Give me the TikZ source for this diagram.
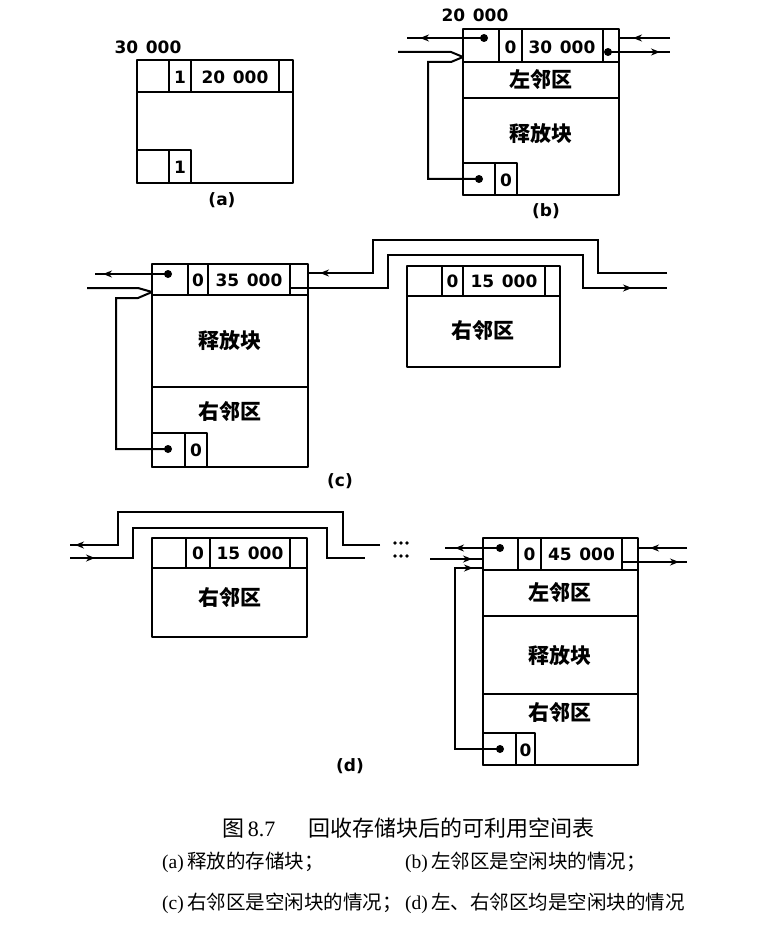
\documentclass[tikz,border=0pt]{standalone}
\usepackage{fontspec}
\usetikzlibrary{arrows.meta,decorations.markings}
\newfontfamily\zhfont{Noto Sans CJK SC}
\newfontfamily\numfont{DejaVu Sans}
\newfontfamily\latfont{Liberation Serif}
\newcommand{\gap}{\hspace{0.45em}}
\tikzset{
  blk/.style={line width=2.2pt, line join=round},
  lnk/.style={line width=2pt, line join=miter},
  num/.style={font=\numfont\bfseries\fontsize{17}{17}\selectfont, inner sep=0pt},
  zh/.style={font=\zhfont\bfseries\fontsize{21}{21}\selectfont, inner sep=0pt},
  sub/.style={font=\numfont\bfseries\fontsize{17}{17}\selectfont, inner sep=0pt},
  captxt/.style={font=\zhfont\fontsize{19.5}{19.5}\selectfont, inner sep=0pt, anchor=west},
  tipat/.style={postaction={decorate}, decoration={markings,
      mark=at position #1 with {\arrow{Stealth[length=9pt,width=7pt]}}}},
  dotmark/.style={fill=black}
}
\begin{document}
\begin{tikzpicture}[x=1pt,y=-1pt]
\useasboundingbox (0,0) rectangle (757,944);

% ---------------- (a) the released block alone ----------------
\draw[blk] (137,60) rectangle (293,183);
\draw[blk] (137,92) -- (293,92);
\foreach \xx in {169,191,279} \draw[blk] (\xx,60) -- (\xx,92);
\draw[blk] (137,150) rectangle (191,183);
\draw[blk] (169,150) -- (169,183);
\node[num] (a-addr) at (148,47) {30\gap000};
\node[num] (a-tag)  at (180,77) {1};
\node[num] (a-size) at (235,77) {20\gap000};
\node[num] (a-foot) at (180,167) {1};
\node[sub] (a-lab)  at (222,200) {(a)};

% ---------------- (b) left neighbour free ----------------
\draw[blk] (463,29) rectangle (619,195);
\draw[blk] (463,62) -- (619,62);
\draw[blk] (463,98) -- (619,98);
\foreach \xx in {499,522,603} \draw[blk] (\xx,29) -- (\xx,62);
\draw[blk] (463,163) rectangle (517,195);
\draw[blk] (495,163) -- (495,195);
\node[num] (b-addr) at (475,15) {20\gap000};
\node[num] (b-tag)  at (510.5,47) {0};
\node[num] (b-size) at (562,47) {30\gap000};
\node[zh]  (b-left) at (541,80) {左邻区};
\node[zh]  (b-rel)  at (541,134) {释放块};
\node[num] (b-foot) at (506,180) {0};
\node[sub] (b-lab)  at (546,211) {(b)};

\coordinate (b-ll) at (484,38);
\coordinate (b-rl) at (608,52);
\coordinate (b-up) at (479,179);
\coordinate (b-tip) at (463,57);
\coordinate (b-w1) at (407,38);
\coordinate (b-w2) at (398,52);
\coordinate (b-e1) at (670,38);
\coordinate (b-e2) at (670,52);
\coordinate (b-rin) at (619,38);
\fill[dotmark] (b-ll) circle (4pt);
\fill[dotmark] (b-rl) circle (4pt);
\fill[dotmark] (b-up) circle (4pt);
\draw[lnk, tipat=-13pt] (b-ll) -- (b-w1);
\draw[lnk] (b-w2) -- (451,52) -- (b-tip);
\draw[lnk] (b-up) -- (428,179) -- (428,62) -- (451,62) -- (b-tip);
\draw[lnk, tipat=-14pt] (b-e1) -- (b-rin);
\draw[lnk, tipat=-10pt] (b-rl) -- (b-e2);

% ---------------- (c) right neighbour free ----------------
\draw[blk] (152,264) rectangle (308,467);
\draw[blk] (152,295) -- (308,295);
\draw[blk] (152,387) -- (308,387);
\foreach \xx in {188,208,290} \draw[blk] (\xx,264) -- (\xx,295);
\draw[blk] (152,433) rectangle (207,467);
\draw[blk] (185,433) -- (185,467);
\node[num] (c-tag)  at (198,280) {0};
\node[num] (c-size) at (249,280) {35\gap000};
\node[zh]  (c-rel)  at (230,340) {释放块};
\node[zh]  (c-right) at (230,412) {右邻区};
\node[num] (c-foot) at (196,450) {0};
\node[sub] (c-lab)  at (340,481) {(c)};

% the old right neighbour, now unlinked
\draw[blk] (407,266) rectangle (560,367);
\draw[blk] (407,296) -- (560,296);
\foreach \xx in {442,463,545} \draw[blk] (\xx,266) -- (\xx,296);
\node[num] (c2-tag)  at (452.5,281) {0};
\node[num] (c2-size) at (504,281) {15\gap000};
\node[zh]  (c2-right) at (483,331) {右邻区};

\coordinate (c-ll) at (168,274);
\coordinate (c-up) at (168,449);
\coordinate (c-tip) at (152,292);
\coordinate (c-w1) at (95,274);
\coordinate (c-w2) at (87,288);
\coordinate (c-rin) at (308,273);
\coordinate (c-rl) at (291,288);
\coordinate (c-e1) at (667,273);
\coordinate (c-e2) at (667,288);
\fill[dotmark] (c-ll) circle (4pt);
\fill[dotmark] (c-up) circle (4pt);
\draw[lnk, tipat=-8pt] (c-ll) -- (c-w1);
\draw[lnk] (c-w2) -- (138,288) -- (c-tip);
\draw[lnk] (c-up) -- (116,449) -- (116,298) -- (138,298) -- (c-tip);
\draw[lnk, tipat=-12pt] (c-e1) -- (598,273) -- (598,240) -- (373,240) -- (373,273) -- (c-rin);
\draw[lnk, tipat=-35pt] (c-rl) -- (388,288) -- (388,255) -- (583,255) -- (583,288) -- (c-e2);

% ---------------- (d) both neighbours free ----------------
\draw[blk] (152,538) rectangle (307,637);
\draw[blk] (152,568) -- (307,568);
\foreach \xx in {186,210,290} \draw[blk] (\xx,538) -- (\xx,568);
\node[num] (d1-tag)  at (198,553) {0};
\node[num] (d1-size) at (250,553) {15\gap000};
\node[zh]  (d1-right) at (230,598) {右邻区};

\coordinate (d1-w1) at (70,545);
\coordinate (d1-e1) at (380,545);
\coordinate (d1-w2) at (70,558);
\coordinate (d1-e2) at (365,558);
\draw[lnk, tipat=-5pt] (d1-e1) -- (343,545) -- (343,512) -- (118,512) -- (118,545) -- (d1-w1);
\draw[lnk, tipat=25pt] (d1-w2) -- (133,558) -- (133,528) -- (327,528) -- (327,558) -- (d1-e2);
\foreach \xx in {395,401,407} {
  \fill (\xx,543) circle (1.8pt);
  \fill (\xx,556) circle (1.8pt);
}

\draw[blk] (483,538) rectangle (638,765);
\draw[blk] (483,570) -- (638,570);
\draw[blk] (483,616) -- (638,616);
\draw[blk] (483,694) -- (638,694);
\foreach \xx in {518,541,622} \draw[blk] (\xx,538) -- (\xx,570);
\draw[blk] (483,733) rectangle (535,765);
\draw[blk] (516,733) -- (516,765);
\node[num] (d-tag)  at (529.5,554) {0};
\node[num] (d-size) at (581.5,554) {45\gap000};
\node[zh]  (d-left) at (560,593) {左邻区};
\node[zh]  (d-rel)  at (560,655) {释放块};
\node[zh]  (d-right) at (560,713) {右邻区};
\node[num] (d-foot) at (525.5,750) {0};
\node[sub] (d-lab)  at (350,766) {(d)};

\coordinate (d-ll) at (500,548);
\coordinate (d-up) at (500,749);
\coordinate (d-w1) at (445,548);
\coordinate (d-w2) at (430,559);
\coordinate (d-in2) at (483,559);
\coordinate (d-in3) at (483,568);
\coordinate (d-rin) at (638,548);
\coordinate (d-rl) at (623,562);
\coordinate (d-e1) at (687,548);
\coordinate (d-e2) at (687,562);
\fill[dotmark] (d-ll) circle (4pt);
\fill[dotmark] (d-up) circle (4pt);
\draw[lnk, tipat=-10pt] (d-ll) -- (d-w1);
\draw[lnk, tipat=42pt] (d-w2) -- (d-in2);
\draw[lnk, tipat=-10pt] (d-up) -- (455,749) -- (455,568) -- (d-in3);
\draw[lnk, tipat=-12pt] (d-e1) -- (d-rin);
\draw[lnk, tipat=-8pt] (d-rl) -- (d-e2);

% ---------------- caption ----------------
\node[captxt, font=\zhfont\fontsize{22}{22}\selectfont] (cap0) at (222,828)
  {图\,{\latfont 8.7}\hspace{1.5em}回收存储块后的可利用空间表};
\node[captxt] (cap-a) at (162,862) {{\latfont (a)}\,释放的存储块；};
\node[captxt] (cap-b) at (405,862) {{\latfont (b)}\,左邻区是空闲块的情况；};
\node[captxt] (cap-c) at (162,903) {{\latfont (c)}\,右邻区是空闲块的情况；};
\node[captxt] (cap-d) at (405,903) {{\latfont (d)}\,左、右邻区均是空闲块的情况};
\end{tikzpicture}
\end{document}
